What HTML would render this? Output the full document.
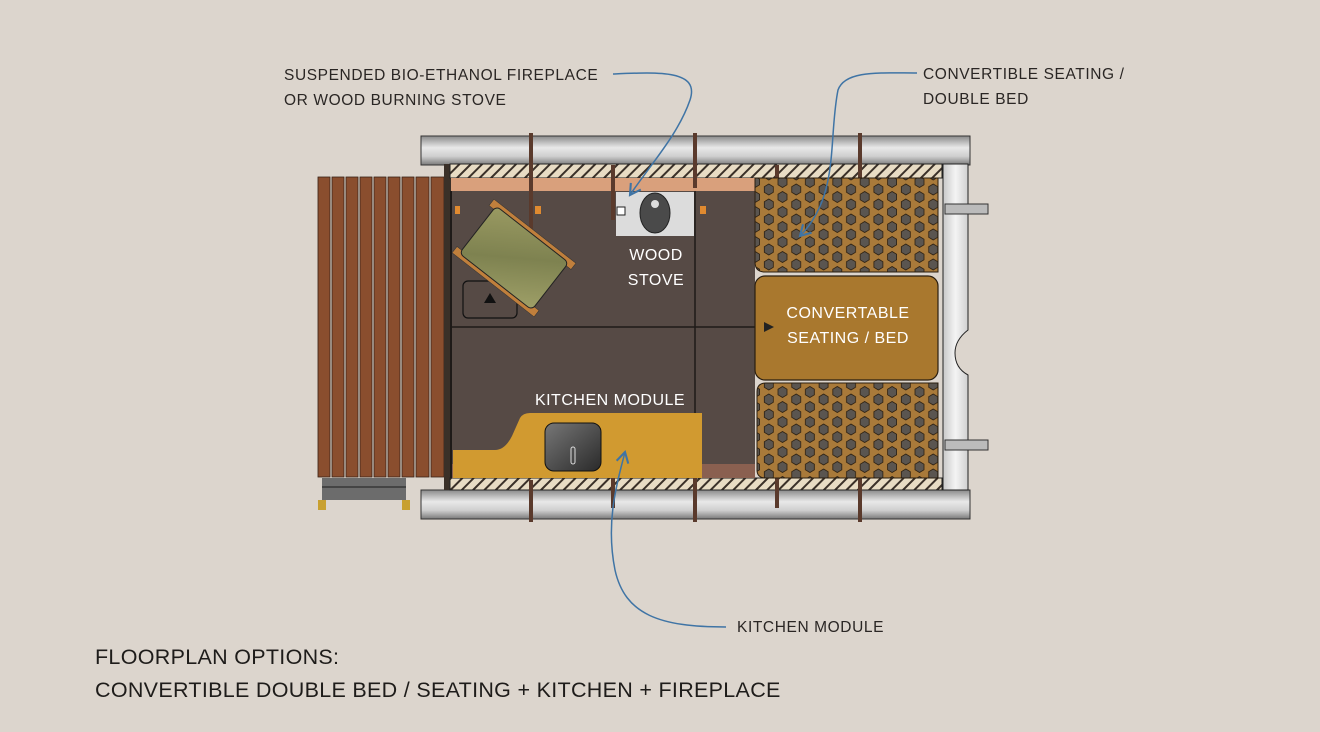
<!DOCTYPE html>
<html><head><style>
body{margin:0;background:#dcd5cd;}
svg{display:block}
text{font-family:"Liberation Sans",sans-serif;}
</style></head><body>
<svg width="1320" height="732" viewBox="0 0 1320 732" xmlns="http://www.w3.org/2000/svg">
<defs>
<linearGradient id="metal" x1="0" y1="0" x2="0" y2="1">
<stop offset="0" stop-color="#8a8a8a"/><stop offset="0.4" stop-color="#e8e8e8"/><stop offset="0.7" stop-color="#cfcfcf"/><stop offset="1" stop-color="#7a7a7a"/></linearGradient>
<linearGradient id="metalv" x1="0" y1="0" x2="1" y2="0">
<stop offset="0" stop-color="#c8c8c8"/><stop offset="0.5" stop-color="#f4f4f4"/><stop offset="1" stop-color="#d0d0d0"/></linearGradient>
<pattern id="hatch" width="8" height="8" patternUnits="userSpaceOnUse" patternTransform="rotate(45)">
<rect width="8" height="8" fill="#e8dcc4"/><rect width="2" height="8" fill="#3a3028"/></pattern>
<pattern id="hex" width="27.4" height="15" patternUnits="userSpaceOnUse" x="762" y="182">
<rect width="27.4" height="15" fill="#a97a3a"/>
<polygon points="6.8,2 11.3,4.7 11.3,10.3 6.8,13 2.3,10.3 2.3,4.7" fill="#5a5550" stroke="#2a1e10" stroke-width="0.8"/>
<polygon points="20.5,-5.5 25,-2.8 25,2.8 20.5,5.5 16,2.8 16,-2.8" fill="#5a5550" stroke="#2a1e10" stroke-width="0.8"/>
<polygon points="20.5,9.5 25,12.2 25,17.8 20.5,20.5 16,17.8 16,12.2" fill="#5a5550" stroke="#2a1e10" stroke-width="0.8"/>
</pattern>
<linearGradient id="tbl" x1="0" y1="0" x2="1" y2="1"><stop offset="0" stop-color="#9a9a62"/><stop offset="0.5" stop-color="#7e8250"/><stop offset="1" stop-color="#9fa068"/></linearGradient>
<linearGradient id="sink" x1="0" y1="0" x2="1" y2="1"><stop offset="0" stop-color="#777"/><stop offset="1" stop-color="#2a2a2a"/></linearGradient>
<marker id="ar" markerWidth="10" markerHeight="10" refX="8" refY="5" orient="auto"><path d="M1,1 L8,5 L1,9" fill="none" stroke="#3f74a5" stroke-width="1.4"/></marker>
</defs>

<!-- deck -->
<rect x="317" y="177" width="133" height="300" fill="#d8cfc4"/>
<g fill="#8a4e2e" stroke="#3a2418" stroke-width="0.8">
<rect x="318" y="177" width="12" height="300"/><rect x="332" y="177" width="12" height="300"/><rect x="346" y="177" width="12" height="300"/><rect x="360" y="177" width="12" height="300"/><rect x="374" y="177" width="12" height="300"/><rect x="388" y="177" width="12" height="300"/><rect x="402" y="177" width="12" height="300"/><rect x="416" y="177" width="13" height="300"/><rect x="431" y="177" width="13" height="300"/>
</g>
<rect x="322" y="478" width="84" height="22" fill="#6c6c6c"/>
<rect x="322" y="486" width="84" height="2" fill="#444"/>
<rect x="318" y="500" width="8" height="10" fill="#c8a030"/><rect x="402" y="500" width="8" height="10" fill="#c8a030"/>

<!-- frame bars -->
<rect x="421" y="136" width="549" height="29" fill="url(#metal)" stroke="#333" stroke-width="1"/>
<rect x="421" y="490" width="549" height="29" fill="url(#metal)" stroke="#333" stroke-width="1"/>
<rect x="444" y="164" width="8" height="326" fill="#3a3028"/>
<path d="M943,164 H968 V330 Q955,340 955,353 Q955,368 968,375 V490 H943 Z" fill="url(#metalv)" stroke="#222"/>
<rect x="945" y="204" width="43" height="10" fill="#bbb" stroke="#333"/>
<rect x="945" y="440" width="43" height="10" fill="#bbb" stroke="#333"/>
<rect x="450" y="164" width="492" height="14" fill="url(#hatch)" stroke="#222"/>
<rect x="450" y="478" width="492" height="12" fill="url(#hatch)" stroke="#222"/>

<!-- floor -->
<rect x="451" y="178" width="304" height="14" fill="#d9a07c"/>
<rect x="451" y="191" width="304" height="287" fill="#564a45"/>
<rect x="451" y="464" width="304" height="14" fill="#8a6050"/>
<line x1="451" y1="327" x2="755" y2="327" stroke="#1e1a18" stroke-width="1.5"/>
<line x1="695" y1="191" x2="695" y2="478" stroke="#1e1a18" stroke-width="1.5"/>
<line x1="451" y1="191" x2="451" y2="478" stroke="#1e1a18" stroke-width="2"/>

<!-- stove -->
<rect x="616" y="192" width="78" height="44" fill="#dcdcdc"/>
<ellipse cx="655" cy="213" rx="15" ry="20" fill="#4a4a4a" stroke="#222"/>
<circle cx="655" cy="204" r="4" fill="#ddd"/>
<rect x="617" y="207" width="8" height="8" fill="#fff" stroke="#222"/>

<!-- posts -->
<g fill="#5a3a2c">
<rect x="529" y="133" width="4" height="140"/><rect x="611" y="165" width="4" height="55"/><rect x="693" y="133" width="4" height="55"/><rect x="858" y="133" width="4" height="55"/><rect x="775" y="165" width="4" height="40"/>
<rect x="529" y="480" width="4" height="42"/><rect x="611" y="478" width="4" height="30"/><rect x="693" y="478" width="4" height="44"/><rect x="858" y="478" width="4" height="44"/><rect x="775" y="478" width="4" height="30"/>
</g>
<g fill="#e08a30"><rect x="455" y="206" width="5" height="8"/><rect x="535" y="206" width="6" height="8"/><rect x="700" y="206" width="6" height="8"/></g>

<!-- table -->
<rect x="463" y="281" width="54" height="37" rx="5" fill="none" stroke="#111" stroke-width="1.2"/>
<path d="M490,293 L484,303 L496,303 Z" fill="#111"/>
<g transform="translate(514,258) rotate(38)">
<rect x="-52" y="-34" width="104" height="8" fill="#c07f3c" stroke="#333" stroke-width="0.5"/>
<rect x="-52" y="26" width="104" height="8" fill="#c07f3c" stroke="#333" stroke-width="0.5"/>
<rect x="-46" y="-30" width="92" height="60" rx="5" fill="url(#tbl)" stroke="#222"/>
</g>

<!-- seating -->
<path d="M755,178 H938 V272 H765 Q755,272 755,262 Z" fill="url(#hex)" stroke="#2a1e10"/>
<rect x="755" y="276" width="183" height="104" rx="10" fill="#a9782e" stroke="#2a1e10" stroke-width="1.2"/>
<path d="M766,383 H938 V478 H766 Q757,478 757,470 V392 Q757,383 766,383 Z" fill="url(#hex)" stroke="#2a1e10"/>
<path d="M764,322 L774,327 L764,332 Z" fill="#222"/>

<!-- kitchen -->
<path d="M453,450 H495 Q505,450 512,436 L520,418 Q523,413 530,413 H702 V478 H453 Z" fill="#d19a30"/>
<rect x="545" y="423" width="56" height="48" rx="9" fill="url(#sink)" stroke="#111"/>
<rect x="571" y="447" width="4" height="17" rx="2" fill="none" stroke="#ddd"/>

<!-- labels -->
<g fill="#ffffff" font-size="16" letter-spacing="0.5" text-anchor="middle">
<text x="656" y="260">WOOD</text><text x="656" y="285">STOVE</text>
<text x="848" y="318">CONVERTABLE</text><text x="848" y="343">SEATING / BED</text>
<text x="610" y="405">KITCHEN MODULE</text>
</g>

<!-- leaders -->
<g fill="none" stroke="#3f74a5" stroke-width="1.5">
<path d="M613,74 C660,72 700,70 690,100 C678,135 650,165 630,195" marker-end="url(#ar)"/>
<path d="M917,73 C880,73 845,70 838,90 C828,140 840,195 800,236" marker-end="url(#ar)"/>
<path d="M726,627 C660,627 625,615 615,570 C605,520 618,480 625,452" marker-end="url(#ar)"/>
</g>

<g fill="#2a2624" font-size="15.5" letter-spacing="0.6">
<text x="284" y="80">SUSPENDED BIO-ETHANOL FIREPLACE</text>
<text x="284" y="105">OR WOOD BURNING STOVE</text>
<text x="923" y="79">CONVERTIBLE SEATING /</text>
<text x="923" y="104">DOUBLE BED</text>
<text x="737" y="632">KITCHEN MODULE</text>
</g>
<g fill="#1e1c1a" font-size="21.5" letter-spacing="0.3">
<text x="95" y="664">FLOORPLAN OPTIONS:</text>
<text x="95" y="697">CONVERTIBLE DOUBLE BED / SEATING + KITCHEN + FIREPLACE</text>
</g>
</svg>
</body></html>
